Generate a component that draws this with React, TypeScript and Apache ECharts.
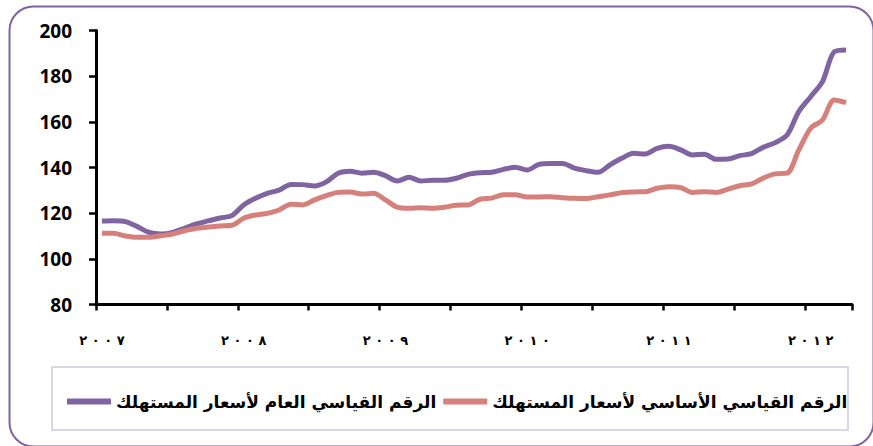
import React, { useEffect, useRef } from "react";
import * as echarts from "echarts";

const years = ["2007", "2008", "2009", "2010", "2011", "2012"];
const yearLabels = ["٢٠٠٧", "٢٠٠٨", "٢٠٠٩", "٢٠١٠", "٢٠١١", "٢٠١٢"];
const monthCount = 64;

const generalName = "الرقم القياسي العام لأسعار المستهلك";
const coreName = "الرقم القياسي الأساسي لأسعار المستهلك";

const generalCPI = [
  116.6, 116.7, 116.3, 114.1, 111.6, 110.9, 111.6, 113.4, 115.3, 116.6, 117.9, 118.9,
  123.6, 126.5, 128.7, 130.1, 132.6, 132.5, 131.9, 133.7, 137.5, 138.4, 137.5, 137.9,
  136.4, 134.1, 135.7, 134.1, 134.4, 134.4, 135.3, 137.0, 137.7, 137.9, 139.2, 140.1,
  138.9, 141.4, 141.8, 141.8, 139.7, 138.6, 137.9, 141.1, 144.0, 146.2, 145.9, 148.4,
  149.3, 147.7, 145.5, 145.8, 143.6, 143.7, 145.2, 146.1, 148.9, 150.9, 154.2, 164.5,
  171.0, 177.6, 190.7, 191.5,
];

const coreCPI = [
  111.2, 111.2, 110.0, 109.4, 109.4, 110.1, 110.9, 112.3, 113.4, 113.9, 114.4, 114.7,
  117.8, 119.2, 119.9, 121.4, 123.9, 123.6, 125.8, 127.7, 129.1, 129.3, 128.4, 128.7,
  125.8, 122.6, 122.1, 122.4, 122.1, 122.6, 123.5, 123.6, 126.1, 126.6, 128.1, 128.1,
  127.1, 127.1, 127.2, 126.8, 126.5, 126.4, 127.2, 128.0, 129.0, 129.3, 129.4, 130.9,
  131.6, 131.2, 129.1, 129.4, 129.1, 130.5, 132.0, 132.8, 135.4, 137.2, 137.5, 147.7,
  157.2, 160.8, 169.6, 168.4,
];

const categories: string[] = [];
for (const y of years) {
  for (let m = 1; m <= 12; m++) {
    if (categories.length < monthCount) categories.push(`${y}-${String(m).padStart(2, "0")}`);
  }
}

const spaced = (s: string) => s.split("").join("\u200E ");

export default function App() {
  const ref = useRef<HTMLDivElement>(null);
  useEffect(() => {
    const chart = echarts.init(ref.current!, null, { renderer: "svg" });
    chart.setOption({
      animation: false,
      backgroundColor: "#ffffff",
      grid: { left: 96, right: 21, top: 30.5, bottom: 141.5 },
      xAxis: {
        type: "category",
        data: categories,
        boundaryGap: true,
        axisLine: { show: true, lineStyle: { color: "#000", width: 3 } },
        axisTick: {
          show: true,
          interval: 5,
          length: 6,
          alignWithLabel: false,
          lineStyle: { color: "#000", width: 2.5 },
        },
        axisLabel: {
          interval: 11,
          margin: 29,
          fontSize: 13,
          fontWeight: "bold",
          fontFamily: "DejaVu Sans",
          color: "#000",
          formatter: (v: string) => {
            const idx = years.indexOf(v.slice(0, 4));
            return idx >= 0 ? spaced(yearLabels[idx]) : "";
          },
        },
        splitLine: { show: false },
      },
      yAxis: {
        type: "value",
        min: 80,
        max: 200,
        interval: 20,
        axisLine: { show: true, lineStyle: { color: "#000", width: 3 } },
        axisTick: { show: true, length: 7, lineStyle: { color: "#000", width: 2.5 } },
        axisLabel: {
          margin: 24,
          fontSize: 19,
          fontWeight: "bold",
          fontFamily: "Open Sans",
          color: "#000",
        },
        splitLine: { show: false },
      },
      legend: {
        data: [generalName, coreName],
        left: 62,
        top: 388,
        icon: "rect",
        itemWidth: 44,
        itemHeight: 6,
        itemGap: 7,
        textStyle: { fontSize: 17, fontWeight: "bold", fontFamily: "DejaVu Sans", color: "#000" },
      },
      graphic: [
        {
          type: "rect",
          left: 7,
          top: 4,
          shape: { x: 0, y: 0, width: 864, height: 440, r: 24 },
          style: { fill: "none", stroke: "#8064A2", lineWidth: 2 },
          silent: true,
          z: -1,
        },
        {
          type: "rect",
          shape: { x: 52, y: 367, width: 796, height: 63 },
          style: { fill: "none", stroke: "#CFC8E0", lineWidth: 1.5 },
          silent: true,
          z: -1,
        },
      ],
      series: [
        {
          name: generalName,
          type: "line",
          data: generalCPI,
          smooth: 0.3,
          symbol: "none",
          lineStyle: { color: "#8064A2", width: 5 },
          itemStyle: { color: "#8064A2" },
        },
        {
          name: coreName,
          type: "line",
          data: coreCPI,
          smooth: 0.3,
          symbol: "none",
          lineStyle: { color: "#D6807C", width: 5 },
          itemStyle: { color: "#D6807C" },
        },
      ],
    });
    return () => chart.dispose();
  }, []);
  return (
    <div
      ref={ref}
      style={{ position: "fixed", left: 0, top: 0, width: 873, height: 446, background: "#fff" }}
    />
  );
}
